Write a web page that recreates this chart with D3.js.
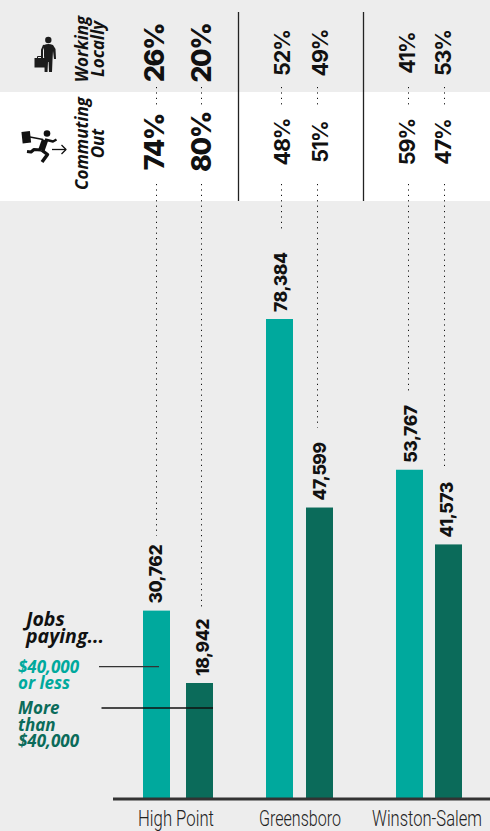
<!DOCTYPE html>
<html>
<head>
<meta charset="utf-8">
<script src="https://cdn.jsdelivr.net/npm/d3@7"></script>
<style>
html,body{margin:0;padding:0;background:#ededed;}
svg{display:block;}
</style>
</head>
<body>
<svg id="chart" width="490" height="831"></svg>
<script>
// Jobs by pay band in three Triad cities, with the split of workers
// who stay in town versus commute out.
const cities = ["High Point", "Greensboro", "Winston-Salem"];
const bands = ["low", "high"];
const jobsLow = [30762, 78384, 53767];
const jobsHigh = [18942, 47599, 41573];
const localLow = [26, 52, 41];
const localHigh = [20, 49, 53];
const outLow = [74, 48, 59];
const outHigh = [80, 51, 47];
const bandColors = ["#00a99d", "#0b6b5a"];

const numberFont = "Inter, sans-serif";
const italicFont = "'Open Sans', sans-serif";
const nameFont = "Roboto, 'Liberation Sans', sans-serif";

const svg = d3.select("#chart");
const baseY = 799;

const keys = cities.flatMap(c => bands.map(b => c + "|" + b));
const y = d3.scaleLinear().domain([0, 78384]).range([baseY, 319]);
const barX = d3.scaleOrdinal().domain(keys).range([143, 186, 266, 306, 396, 435]);
const leaderX = d3.scaleOrdinal().domain(keys).range([156, 201, 281, 317, 408, 444]);
const valueX = d3.scaleOrdinal().domain(keys).range([155, 201.5, 279.5, 319, 409.5, 446]);
const pctX = d3.scaleOrdinal().domain(keys).range([154, 200.5, 282, 320, 407, 443]);
const leaderGap = d3.scaleOrdinal().domain(keys).range([75, 74, 87, 80, 78, 78]);
const barW = 27;

const rows = [];
cities.forEach((city, i) => {
  rows.push({city, band: "low", key: city + "|low", jobs: jobsLow[i], local: localLow[i], out: outLow[i]});
  rows.push({city, band: "high", key: city + "|high", jobs: jobsHigh[i], local: localHigh[i], out: outHigh[i]});
});
const first = d => d.city === cities[0];

// Background bands
svg.append("rect").attr("width", 490).attr("height", 831).attr("fill", "#ededed");
svg.append("rect").attr("x", 0).attr("y", 92).attr("width", 490).attr("height", 109).attr("fill", "#fff");

// Dotted leaders running from the percentages to each value label
const dotted = sel => sel
  .attr("stroke", "#111").attr("stroke-width", 1).attr("stroke-dasharray", "1.2 4.2");
const lx = d => leaderX(d.key) + 0.5;
svg.selectAll(".lead-top").data(rows).join("line").attr("class", "lead-top")
  .attr("x1", lx).attr("x2", lx).attr("y1", 87).attr("y2", 106).call(dotted);
svg.selectAll(".lead-main").data(rows).join("line").attr("class", "lead-main")
  .attr("x1", lx).attr("x2", lx).attr("y1", 184)
  .attr("y2", d => y(d.jobs) - leaderGap(d.key)).call(dotted);

// Separators between the cities
const sepX = d3.scaleOrdinal().domain(cities.slice(1)).range([238.5, 363.5]);
svg.selectAll(".sep").data(cities.slice(1)).join("line").attr("class", "sep")
  .attr("x1", sepX).attr("x2", sepX)
  .attr("y1", 12).attr("y2", 201)
  .attr("stroke", "#222").attr("stroke-width", 1.3);

// Bars
svg.selectAll(".bar").data(rows).join("rect").attr("class", "bar")
  .attr("x", d => barX(d.key))
  .attr("y", d => y(d.jobs))
  .attr("width", barW)
  .attr("height", d => baseY - y(d.jobs))
  .attr("fill", d => bandColors[bands.indexOf(d.band)]);

// Value labels above the bars
const rotated = (sel, fx, fy) => sel.attr("transform", d => `translate(${fx(d)},${fy(d)}) rotate(-90)`);
svg.selectAll(".value").data(rows).join("text").attr("class", "value")
  .text(d => d3.format(",")(d.jobs))
  .call(rotated, d => valueX(d.key) + 7, d => y(d.jobs) - 7)
  .attr("font-family", numberFont).attr("font-weight", 800).attr("font-size", 17.5)
  .attr("letter-spacing", -0.45)
  .attr("fill", "#111");

// Percentages, larger for the first city
const pct = (cls, key, midY) => svg.selectAll("." + cls).data(rows).join("text").attr("class", cls)
  .text(d => d[key] + "%")
  .call(rotated, d => pctX(d.key) + (first(d) ? 10 : 8), () => midY)
  .attr("text-anchor", "middle")
  .attr("font-family", numberFont).attr("font-weight", d => first(d) ? 800 : 700)
  .attr("font-size", d => first(d) ? 27 : 21.5)
  .attr("letter-spacing", d => first(d) ? -1.4 : -1.1)
  .attr("fill", "#111");
pct("pct-local", "local", 53);
pct("pct-out", "out", 142);

// Row headings
const headings = [
  {lines: ["Working", "Locally"], midY: 49},
  {lines: ["Commuting", "Out"], midY: 143.5}
];
headings.forEach(h => {
  h.lines.forEach((line, i) => {
    svg.append("text").text(line)
      .attr("transform", `translate(${88 + i * 16},${h.midY}) rotate(-90)`)
      .attr("text-anchor", "middle")
      .attr("font-family", italicFont).attr("font-style", "italic").attr("font-weight", 700)
      .attr("font-size", 17).attr("fill", "#111");
  });
});

// Standing figure with a briefcase
const man = svg.append("g").attr("fill", "#1c1c1c");
man.append("circle").attr("cx", 48.3).attr("cy", 40).attr("r", 3.2);
man.append("path").attr("d", "M44,45 Q48.3,43 53,45 L55.5,49 L56,59 L54,59 L53,51 L52.5,60 L52,72 L49,72 L48.6,62 L48,62 L47.5,72 L44.6,72 L44.4,60 L44,56 Z");
man.append("path").attr("d", "M44,45 L42,50 L42,58").attr("fill", "none").attr("stroke", "#1c1c1c").attr("stroke-width", 2);
man.append("rect").attr("x", 34.5).attr("y", 58).attr("width", 11).attr("height", 9.5);
man.append("path").attr("d", "M37.5,58 v-1.5 h5 v1.5").attr("fill", "none").attr("stroke", "#1c1c1c").attr("stroke-width", 1);

// Running commuter with an arrow pointing out
const runner = svg.append("g");
runner.append("circle").attr("cx", 47).attr("cy", 133.5).attr("r", 3.3).attr("fill", "#111");
runner.append("rect").attr("x", 22).attr("y", 131.5).attr("width", 8.5).attr("height", 11.5)
  .attr("fill", "#111").attr("transform", "rotate(-6 26 137)");
const limb = (d, w) => runner.append("path").attr("d", d).attr("fill", "none")
  .attr("stroke", "#111").attr("stroke-width", w).attr("stroke-linejoin", "round").attr("stroke-linecap", "butt");
limb("M30,137 L43,139.5", 1.6);
limb("M45,139.5 L53,141.5 L56.5,139.5", 2.4);
limb("M45,140 L41.5,150", 6.5);
limb("M41,150 L34,149.5 L31,152 L27,151.5", 3.2);
limb("M41.5,150 L47.5,154.5 L42,162", 3.4);
limb("M52,149.5 H66", 1.3);
limb("M61.5,145 L66,149.5 L61.5,154", 1.3);

// Legend
const legendBlocks = [
  {x: 26, fill: "#111", size: 19.5, lines: [["Jobs", 626], ["paying...", 643]]},
  {x: 18, fill: bandColors[0], size: 17, lines: [["$40,000", 672.7], ["or less", 688.7]]},
  {x: 18, fill: bandColors[1], size: 17, lines: [["More", 714], ["than", 730.6], ["$40,000", 746.7]]}
];
svg.selectAll(".legend").data(legendBlocks).join("text").attr("class", "legend")
  .attr("font-family", italicFont).attr("font-style", "italic").attr("font-weight", 700)
  .attr("font-size", d => d.size).attr("fill", d => d.fill)
  .each(function (d) {
    d3.select(this).selectAll("tspan").data(d.lines).join("tspan")
      .attr("x", d.x).attr("y", l => l[1]).text(l => l[0]);
  });

svg.append("line").attr("x1", 99).attr("x2", 159).attr("y1", 666.7).attr("y2", 666.7)
  .attr("stroke", "#333").attr("stroke-width", 1.3);
svg.append("line").attr("x1", 101.5).attr("x2", 213).attr("y1", 708).attr("y2", 708)
  .attr("stroke", "#111").attr("stroke-width", 1.3);

// Baseline and condensed city names
svg.append("line").attr("x1", 113).attr("x2", 490).attr("y1", baseY).attr("y2", baseY)
  .attr("stroke", "#333").attr("stroke-width", 3);
const nameX = d3.scaleOrdinal().domain(cities).range([176, 300, 427]);
const nameLen = d3.scaleOrdinal().domain(cities).range([76, 82, 110]);
svg.selectAll(".city").data(cities).join("text").attr("class", "city")
  .text(d => d)
  .attr("text-anchor", "middle")
  .attr("font-family", nameFont).attr("font-weight", 300).attr("font-size", 22).attr("fill", "#222")
  .attr("transform", function (d) {
    const squeeze = nameLen(d) / this.getComputedTextLength();
    return `translate(${nameX(d)},826) scale(${squeeze},1)`;
  });
</script>
</body>
</html>
